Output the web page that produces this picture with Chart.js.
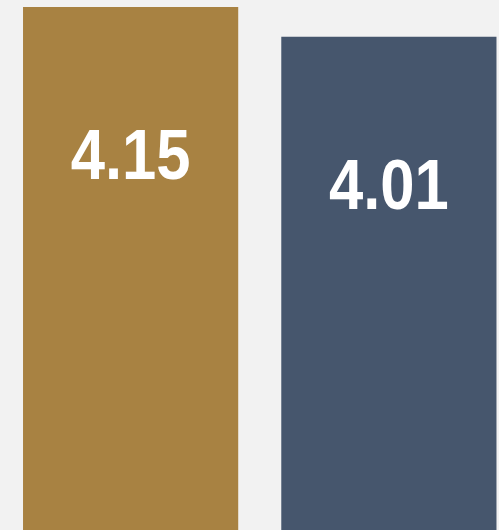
<!DOCTYPE html>
<html>
<head>
<meta charset="utf-8">
<script src="https://cdn.jsdelivr.net/npm/chart.js@4/dist/chart.umd.min.js"></script>
<style>
html,body{margin:0;padding:0;background:#f2f2f2;overflow:hidden;width:499px;height:530px;}
#wrap{position:absolute;left:0;top:0;width:518px;height:530px;}
</style>
</head>
<body>
<div id="wrap"><canvas id="c" width="518" height="530"></canvas></div>
<script>
const categories = ["A", "B"];
const values = [4.15, 4.01];
const labels = ["4.15", "4.01"];
const colors = ["#a88242", "#46566d"];

const valueLabels = {
  id: 'valueLabels',
  afterDatasetsDraw(chart) {
    const ctx = chart.ctx;
    const meta = chart.getDatasetMeta(0);
    meta.data.forEach((bar, i) => {
      ctx.save();
      ctx.fillStyle = '#ffffff';
      ctx.font = 'bold 70px "Liberation Sans", Arial, sans-serif';
      ctx.textAlign = 'center';
      ctx.textBaseline = 'alphabetic';
      ctx.translate(bar.x, bar.y + 172.5);
      ctx.scale(0.88, 1);
      ctx.fillText(labels[i], 0, 0);
      ctx.restore();
    });
  }
};

new Chart(document.getElementById('c'), {
  type: 'bar',
  data: {
    labels: categories,
    datasets: [{
      data: values,
      backgroundColor: colors,
      borderWidth: 0,
      barPercentage: 0.8333,
      categoryPercentage: 1
    }]
  },
  options: {
    responsive: false,
    animation: false,
    layout: { padding: { left: 1.5, right: 0, top: 0, bottom: 0 } },
    plugins: { legend: { display: false }, tooltip: { enabled: false } },
    scales: {
      x: { display: false, offset: true },
      y: { display: false, min: 1.684, max: 4.183 }
    }
  },
  plugins: [valueLabels]
});
</script>
</body>
</html>
